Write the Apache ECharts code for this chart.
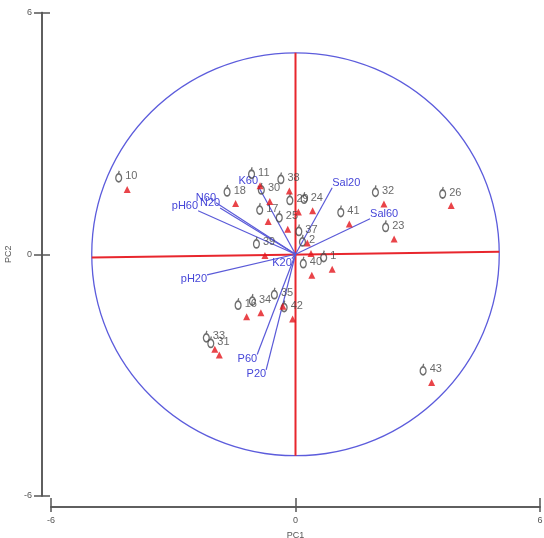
<!DOCTYPE html>
<html><head><meta charset="utf-8">
<script src="https://cdn.jsdelivr.net/npm/echarts@6/dist/echarts.min.js"></script>
<style>html,body{margin:0;padding:0;background:#fff}#c{width:544px;height:538px}</style>
</head><body><div id="c"></div>
<script>
// Sample scores (PC1, PC2)
const sampleIds = [10, 18, 11, 30, 38, 29, 24, 17, 25, 37, 2, 39, 40, 1, 32, 26, 41, 23, 16, 34, 35, 42, 33, 31, 43];
const sampleX = [-4.13, -1.47, -0.87, -0.63, -0.15, 0.07, 0.42, -0.67, -0.19, 0.29, 0.38, -0.75, 0.40, 0.90, 2.17, 3.82, 1.32, 2.42, -1.20, -0.85, -0.31, -0.07, -1.98, -1.87, 3.34];
const sampleY = [1.61, 1.26, 1.70, 1.31, 1.57, 1.05, 1.08, 0.81, 0.62, 0.28, 0.02, -0.03, -0.52, -0.37, 1.25, 1.21, 0.75, 0.38, -1.55, -1.45, -1.29, -1.61, -2.36, -2.50, -3.18];
// Variable vectors (PC1, PC2)
const varNames = ['K60', 'N60', 'N20', 'pH60', 'pH20', 'K20', 'P60', 'P20', 'Sal20', 'Sal60'];
const varX = [-0.92, -1.95, -1.85, -2.39, -2.17, -0.09, -0.94, -0.72, 0.90, 1.83];
const varY = [1.70, 1.28, 1.15, 1.08, -0.51, -0.11, -2.49, -2.87, 1.65, 0.88];
// Axes
const axisMin = -6, axisMax = 6, axisStep = 6;
const circleRadius = 5;
const redAxisH = [[-5, -0.08], [5, 0.06]];
const redAxisV = [[0, 5], [0, -5]];

const FONT = 'Liberation Sans, Arial, sans-serif';
const chart = echarts.init(document.getElementById('c'));

const axisBase = {
  type: 'value', min: axisMin, max: axisMax, interval: axisStep,
  splitLine: { show: false },
  axisLine: { show: true, onZero: false, lineStyle: { color: '#555', width: 1.5 } }
};

const sampleData = sampleIds.map((id, i) => ({ name: String(id), value: [sampleX[i], sampleY[i]] }));

chart.setOption({
  animation: false,
  backgroundColor: '#fff',
  grid: { left: 51, right: 4, top: 12.5, bottom: 42, outerBoundsMode: 'none', containLabel: false },
  xAxis: [
    Object.assign({}, axisBase, {
      position: 'bottom', offset: 11,
      axisTick: { show: true, inside: false, length: 5, lineStyle: { color: '#555', width: 1.5 } },
      axisLabel: { fontSize: 9, color: '#555', margin: 9, fontFamily: FONT },
      name: 'PC1', nameLocation: 'middle', nameGap: 24,
      nameTextStyle: { fontSize: 9, color: '#555', fontFamily: FONT }
    }),
    Object.assign({}, axisBase, {
      position: 'bottom', offset: 11,
      axisTick: { show: true, inside: true, length: 9, lineStyle: { color: '#555', width: 1.5 } },
      axisLabel: { show: false }
    })
  ],
  yAxis: [
    Object.assign({}, axisBase, {
      position: 'left', offset: 9,
      axisTick: { show: true, inside: false, length: 8, lineStyle: { color: '#555', width: 1.5 } },
      axisLabel: { fontSize: 9, color: '#555', margin: 10, fontFamily: FONT },
      name: 'PC2', nameLocation: 'middle', nameGap: 28,
      nameTextStyle: { fontSize: 9, color: '#555', fontFamily: FONT }
    }),
    Object.assign({}, axisBase, {
      position: 'left', offset: 9,
      axisTick: { show: true, inside: true, length: 8, lineStyle: { color: '#555', width: 1.5 } },
      axisLabel: { show: false }
    })
  ],
  series: [
    {
      type: 'custom', silent: true, clip: false, z: 1,
      data: [[0, 0]],
      renderItem: (params, api) => {
        const c = api.coord([api.value(0), api.value(1)]);
        const s = api.size([circleRadius, circleRadius]);
        return { type: 'ellipse', shape: { cx: c[0], cy: c[1], rx: s[0], ry: s[1] },
          style: { fill: 'none', stroke: '#5c5cdc', lineWidth: 1.3 } };
      }
    },
    {
      type: 'line', data: redAxisH, symbol: 'none', silent: true, z: 2,
      lineStyle: { color: '#e8262d', width: 2 }
    },
    {
      type: 'line', data: redAxisV, symbol: 'none', silent: true, z: 2,
      lineStyle: { color: '#e8262d', width: 2 }
    },
    {
      type: 'custom', silent: true, clip: false, z: 3,
      data: varNames.map((n, i) => [varX[i], varY[i]]),
      renderItem: (params, api) => {
        const x = api.value(0), y = api.value(1);
        const o = api.coord([0, 0]);
        const t = api.coord([x, y]);
        return { type: 'group', children: [
          { type: 'line', shape: { x1: o[0], y1: o[1], x2: t[0], y2: t[1] },
            style: { stroke: '#5a5ad8', lineWidth: 1.2 } },
          { type: 'text', x: t[0], y: t[1] + (y > 0 ? 1 : -1),
            style: { text: varNames[params.dataIndex], fill: '#4646d8', font: '11px ' + FONT,
              align: x < 0 ? 'right' : 'left', verticalAlign: y > 0 ? 'bottom' : 'top' } }
        ] };
      }
    },
    {
      type: 'scatter', data: sampleData, z: 4, silent: true,
      symbol: 'path://M1,8a4,4 0 1,0 8,0a4,4 0 1,0 -8,0zM4.6,4L5.8,1',
      symbolSize: [8, 11], symbolKeepAspect: true, symbolOffset: [-8.5, -13],
      itemStyle: { color: 'rgba(0,0,0,0)', borderColor: '#4a4a4a', borderWidth: 1.5 },
      label: { show: true, position: 'right', distance: 3, formatter: '{b}',
        fontSize: 11, color: '#444', fontFamily: FONT }
    },
    {
      type: 'scatter', data: sampleData, z: 5, silent: true,
      symbol: 'triangle', symbolSize: 7,
      itemStyle: { color: '#e3151c' }
    }
  ]
});
</script></body></html>
